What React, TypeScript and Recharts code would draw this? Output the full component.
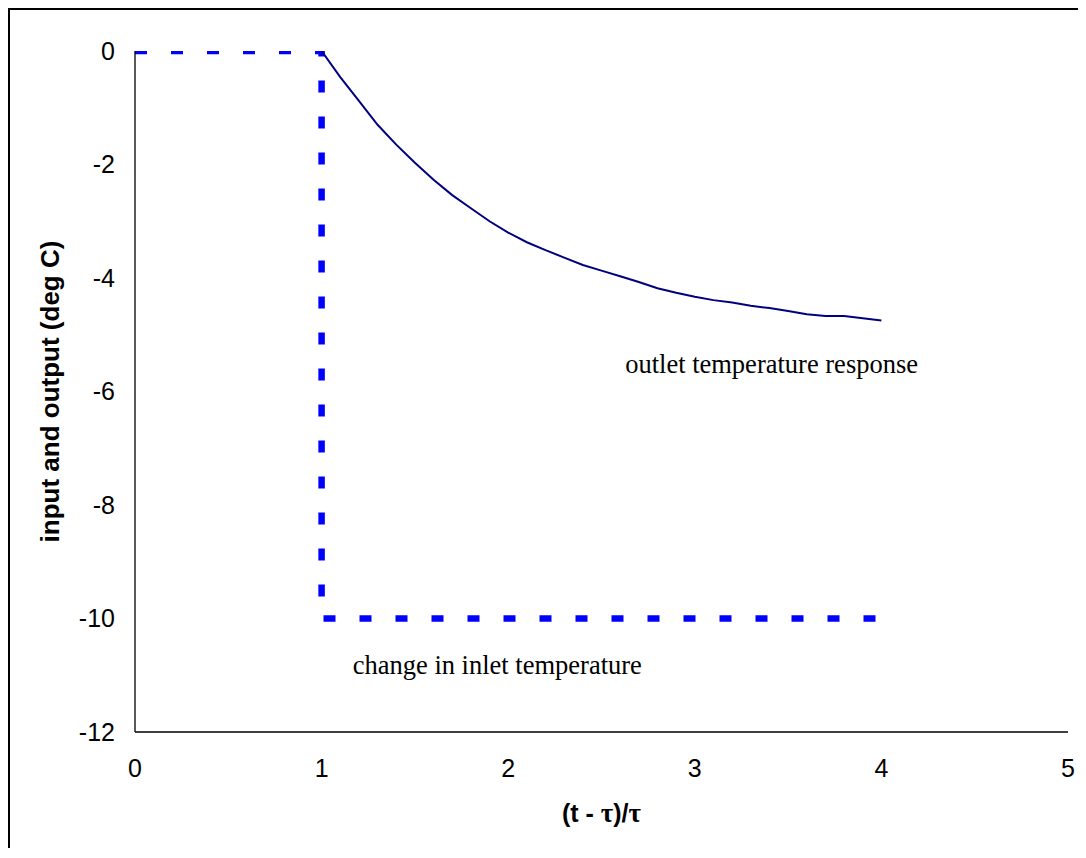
import { LineChart, Line, XAxis, YAxis, ReferenceDot } from "recharts";

// step input: inlet temperature change
const inletT = [0, 1, 1, 4];
const inletV = [0, 0, -10, -10];

// outlet temperature response
const outletT = [1.0, 1.1, 1.2, 1.3, 1.4, 1.5, 1.6, 1.7, 1.8, 1.9, 2.0, 2.1, 2.2, 2.3, 2.4, 2.5, 2.6, 2.7, 2.8, 2.9, 3.0, 3.1, 3.2, 3.3, 3.4, 3.5, 3.6, 3.7, 3.8, 3.9, 4.0];
const outletV = [0, -0.46, -0.88, -1.3, -1.65, -1.97, -2.27, -2.54, -2.77, -3.0, -3.2, -3.37, -3.51, -3.64, -3.77, -3.87, -3.97, -4.07, -4.18, -4.26, -4.33, -4.39, -4.43, -4.49, -4.53, -4.58, -4.64, -4.67, -4.67, -4.71, -4.75];

const xTicks = [0, 1, 2, 3, 4, 5];
const yTicks = [0, -2, -4, -6, -8, -10, -12];

const inlet = inletT.map((t, i) => ({ t, v: inletV[i] }));
const outlet = outletT.map((t, i) => ({ t, v: outletV[i] }));

const SANS = "'Liberation Sans', Arial, sans-serif";
const SERIF = "'Liberation Serif', 'Times New Roman', serif";

function XLabel(props: any) {
  const vb = props.viewBox;
  const cx = vb.x + vb.width / 2;
  return (
    <text x={cx} y={vb.y + 90} textAnchor="middle" fontFamily={SANS} fontWeight="bold" fontSize={25} fill="#000">
      (t - <tspan fontFamily={SERIF} fontSize={27}>τ</tspan>)/<tspan fontFamily={SERIF} fontSize={27}>τ</tspan>
    </text>
  );
}

function YLabel(props: any) {
  const vb = props.viewBox;
  const cx = vb.x + 49;
  const cy = vb.y + vb.height / 2;
  return (
    <text x={cx} y={cy} textAnchor="middle" transform={`rotate(-90, ${cx}, ${cy})`} fontFamily={SANS} fontWeight="bold" fontSize={26} fill="#000">
      input and output (deg C)
    </text>
  );
}

const noteStyle = { fontFamily: SERIF, fontSize: 26.5, fill: "#000" };

export default function App() {
  return (
    <div style={{ borderTop: "2px solid #000", borderLeft: "2px solid #000", width: 1076, background: "#fff" }}>
      <LineChart width={1076} height={838} margin={{ top: 41, right: 18, left: 0, bottom: 56 }}>
        <XAxis
          xAxisId={0}
          dataKey="t"
          type="number"
          domain={[0, 5]}
          ticks={xTicks}
          allowDataOverflow
          tickLine={false}
          tickSize={0}
          tickMargin={27}
          axisLine={{ stroke: "#000", strokeWidth: 1.3 }}
          tick={{ fontSize: 25, fill: "#000", fontFamily: SANS }}
          height={60}
          label={{ content: XLabel }}
        />
        <XAxis xAxisId="top" orientation="top" type="number" domain={[0, 5]} allowDataOverflow tick={false} tickLine={false} height={0} axisLine={{ stroke: "#808080", strokeWidth: 1.5 }} />
        <YAxis
          yAxisId={0}
          type="number"
          domain={[-12, 0]}
          ticks={yTicks}
          allowDataOverflow
          tickLine={false}
          tickSize={0}
          tickMargin={20}
          axisLine={{ stroke: "#000", strokeWidth: 1.3 }}
          tick={{ fontSize: 25, fill: "#000", fontFamily: SANS }}
          width={125}
          label={{ content: YLabel }}
        />
        <YAxis yAxisId="right" orientation="right" type="number" domain={[-12, 0]} allowDataOverflow tick={false} tickLine={false} width={0} axisLine={{ stroke: "#808080", strokeWidth: 1.5 }} />
        <Line
          data={inlet}
          dataKey="v"
          type="linear"
          stroke="#0000ff"
          strokeWidth={6.5}
          strokeDasharray="12 24"
          dot={false}
          activeDot={false}
          isAnimationActive={false}
        />
        <Line
          data={outlet}
          dataKey="v"
          type="linear"
          stroke="#000080"
          strokeWidth={2}
          dot={false}
          activeDot={false}
          isAnimationActive={false}
        />
        <ReferenceDot x={2.6} y={-5.5} r={0} fill="none" stroke="none" label={{ value: "outlet temperature response", position: "right", ...noteStyle }} />
        <ReferenceDot x={1.14} y={-10.82} r={0} fill="none" stroke="none" label={{ value: "change in inlet temperature", position: "right", ...noteStyle }} />
      </LineChart>
    </div>
  );
}
